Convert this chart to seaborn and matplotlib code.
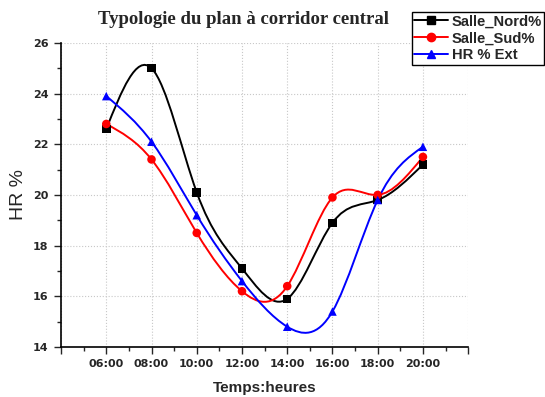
import numpy as np
import pandas as pd
import seaborn as sns
import matplotlib.pyplot as plt
from matplotlib.path import Path
from matplotlib.patches import PathPatch
from matplotlib.lines import Line2D

# data
heures = ['06:00', '08:00', '10:00', '12:00', '14:00', '16:00', '18:00', '20:00']
salle_nord = [22.6, 25.0, 20.1, 17.1, 15.9, 18.9, 19.8, 21.2]
salle_sud = [22.8, 21.4, 18.5, 16.2, 16.4, 19.9, 20.0, 21.5]
hr_ext = [23.9, 22.1, 19.2, 16.6, 14.8, 15.4, 19.8, 21.9]

series = {'Salle_Nord%': salle_nord, 'Salle_Sud%': salle_sud, 'HR % Ext': hr_ext}
colors = {'Salle_Nord%': 'black', 'Salle_Sud%': 'red', 'HR % Ext': 'blue'}
markers = {'Salle_Nord%': 's', 'Salle_Sud%': 'o', 'HR % Ext': '^'}

rows = []
for name, vals in series.items():
    for i, v in enumerate(vals):
        rows.append({'pos': i, 'HR': v, 'serie': name})
df = pd.DataFrame(rows)


def spline_path(y):
    # natural cubic spline through the points, drawn as bezier segments
    y = np.asarray(y, dtype=float)
    n = len(y)
    A = np.zeros((n, n))
    b = np.zeros(n)
    A[0, 0] = A[-1, -1] = 1
    for i in range(1, n - 1):
        A[i, i - 1], A[i, i], A[i, i + 1] = 1, 4, 1
        b[i] = 6 * (y[i + 1] - 2 * y[i] + y[i - 1])
    M = np.linalg.solve(A, b)
    verts = [(0, y[0])]
    codes = [Path.MOVETO]
    for i in range(n - 1):
        d0 = y[i + 1] - y[i] - (2 * M[i] + M[i + 1]) / 6
        d1 = y[i + 1] - y[i] + (M[i] + 2 * M[i + 1]) / 6
        verts += [(i + 1 / 3, y[i] + d0 / 3), (i + 2 / 3, y[i + 1] - d1 / 3), (i + 1, y[i + 1])]
        codes += [Path.CURVE4] * 3
    return Path(verts, codes)


sns.set_style('white')
fig = plt.figure(figsize=(5.45, 3.97), dpi=100)
ax = fig.add_axes([0.112, 0.126, 0.747, 0.766])

for name, vals in series.items():
    ax.add_patch(PathPatch(spline_path(vals), fill=False, edgecolor=colors[name], lw=1.4, zorder=2))

sns.scatterplot(data=df, x='pos', y='HR', hue='serie', style='serie',
                palette=colors, markers=markers, s=38, edgecolor='none',
                legend=False, ax=ax, zorder=3)

ax.set_xlim(-1, 8)
ax.set_ylim(14, 26)
ax.set_xticks(range(-1, 9))
ax.set_xticklabels([''] + heures + [''], fontweight='bold', fontsize=8)
ax.set_xticks(np.arange(-0.5, 8, 1), minor=True)
ax.set_yticks(range(14, 27, 2))
ax.set_yticklabels([str(v) for v in range(14, 27, 2)], fontweight='bold', fontsize=8)
ax.set_yticks(range(15, 26, 2), minor=True)
ax.tick_params(which='major', direction='out', length=5, width=1, bottom=True, left=True, pad=4)
ax.tick_params(which='minor', direction='out', length=3, width=1, bottom=True, left=True)
ax.grid(True, which='major', color='#c8c8c8', linestyle=':', linewidth=0.8)
for s in ['top', 'right']:
    ax.spines[s].set_visible(False)
for s in ['left', 'bottom']:
    ax.spines[s].set_color('black')
    ax.spines[s].set_linewidth(1.2)

ax.set_xlabel('Temps:heures', fontweight='bold', fontsize=11, family='Liberation Sans', labelpad=8)
ax.set_ylabel('HR %', fontsize=14, family='Liberation Sans', labelpad=4)
fig.text(0.446, 0.95, 'Typologie du plan à corridor central', ha='center', va='center',
         fontsize=13.5, fontweight='bold', family='Liberation Serif')

handles = [Line2D([], [], color=colors[n], marker=markers[n], markersize=6, lw=1.4) for n in series]
fig.legend(handles, list(series.keys()), loc='upper left', bbox_to_anchor=(0.756, 0.969),
           frameon=True, fancybox=False, edgecolor='black', framealpha=1,
           prop={'family': 'Liberation Sans', 'weight': 'bold', 'size': 10.6},
           handlelength=2.3, labelspacing=0.2, borderpad=0.15, handletextpad=0.25,
           borderaxespad=0)

fig.savefig('out.png', dpi=100)
